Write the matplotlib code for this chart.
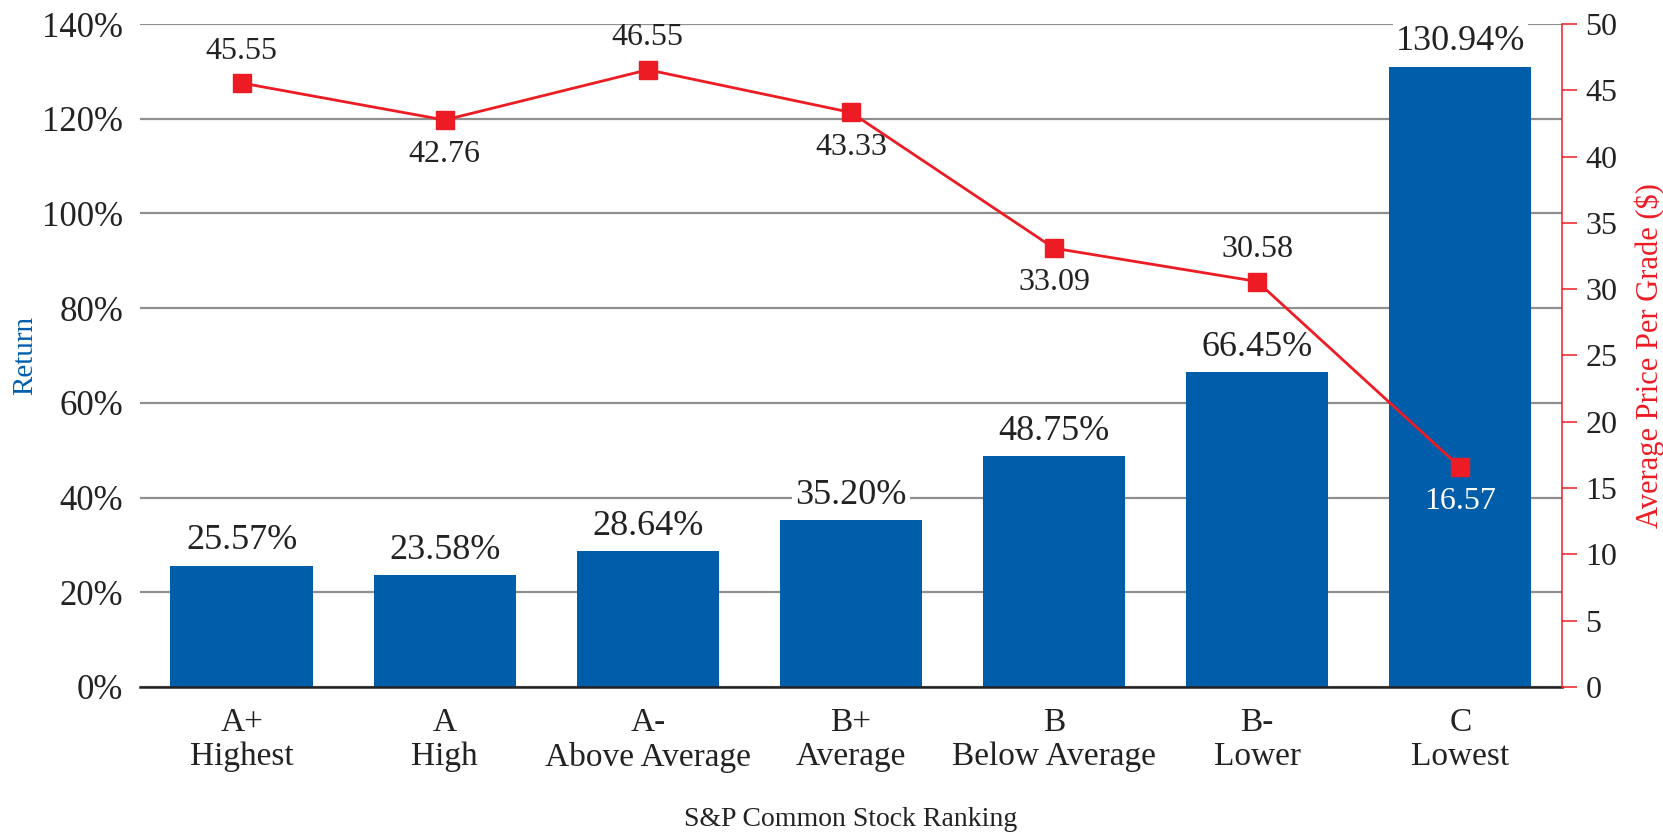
import matplotlib
matplotlib.use("Agg")
import matplotlib.pyplot as plt

# data
grades = ["A+", "A", "A-", "B+", "B", "B-", "C"]
grade_names = ["Highest", "High", "Above Average", "Average", "Below Average", "Lower", "Lowest"]
returns = [25.57, 23.58, 28.64, 35.20, 48.75, 66.45, 130.94]
avg_price = [45.55, 42.76, 46.55, 43.33, 33.09, 30.58, 16.57]
price_label_pos = ["above", "below", "above", "below", "below", "above", "below"]

blue = "#005DAA"
red = "#ED1C24"
grid_grey = "#8f8f8f"

plt.rcParams["font.family"] = ["Liberation Serif", "DejaVu Serif"]

fig = plt.figure(figsize=(16.63, 8.34), dpi=100)
ax = fig.add_axes([0.0842, 0.1763, 0.855, 0.7949])
x = list(range(len(grades)))

ax.set_axisbelow(True)
ax.yaxis.grid(True, color=grid_grey, linewidth=1.6)
ax.bar(x, returns, width=0.7, color=blue, zorder=2)
ax.set_xlim(-0.5, 6.5)
ax.set_ylim(0, 140)
ax.set_yticks(range(0, 141, 20))
ax.set_yticklabels([f"{v}%" for v in range(0, 141, 20)])
ax.set_xticks(x)
ax.set_xticklabels([f"{g}\n{n}" for g, n in zip(grades, grade_names)], linespacing=1.15)
ax.tick_params(axis="y", length=0, pad=12, labelsize=25, labelcolor="#222222")
ax.tick_params(axis="x", length=0, pad=15, labelsize=24, labelcolor="#222222")
for s in ["top", "left", "right"]:
    ax.spines[s].set_visible(False)
ax.spines["bottom"].set_linewidth(1.8)
ax.spines["bottom"].set_color("#222222")

for xi, r in zip(x, returns):
    ax.annotate(f"{r:.2f}%", (xi, r), xytext=(0, 18), textcoords="offset points",
                ha="center", va="center", fontsize=26, color="#222222",
                bbox=dict(facecolor="white", edgecolor="none", pad=2), zorder=3)

ax.set_ylabel("Return", color=blue, fontsize=21)
ax.yaxis.set_label_coords(-0.081, 0.5)
ax.yaxis.label.set_va("center")
fig.text(0.5118, 0.0168, "S&P Common Stock Ranking", ha="center", va="center",
         fontsize=20, color="#222222")

ax2 = ax.twinx()
ax2.set_ylim(0, 50)
ax2.set_yticks(range(0, 51, 5))
ax2.plot(x, avg_price, color=red, linewidth=2, marker="s", markersize=13, zorder=5)
for s in ["top", "left", "bottom"]:
    ax2.spines[s].set_visible(False)
ax2.spines["right"].set_color(red)
ax2.spines["right"].set_linewidth(1.1)
ax2.tick_params(axis="y", colors=red, labelcolor="#222222", length=11, width=1.1,
                labelsize=23, pad=6)
ax2.set_ylabel("Average Price Per Grade ($)", color=red, fontsize=22)
ax2.yaxis.set_label_coords(1.062, 0.5)
ax2.yaxis.label.set_va("center")

for xi, p, pos in zip(x, avg_price, price_label_pos):
    colour = "white" if returns[xi] > 100 and pos == "below" else "#222222"
    dy = 23 if pos == "above" else -25
    ax2.annotate(f"{p:.2f}", (xi, p), xytext=(0, dy), textcoords="offset points",
                 ha="center", va="center", fontsize=23, color=colour)

fig.savefig("out.png", dpi=100)
